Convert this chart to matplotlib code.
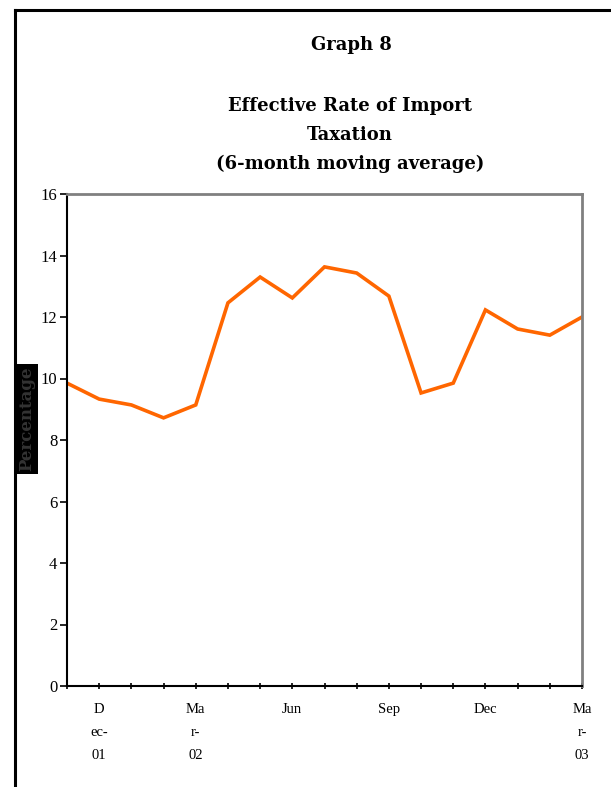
import matplotlib.pyplot as plt
from matplotlib.lines import Line2D

months = ['Nov-01', 'Dec-01', 'Jan-02', 'Feb-02', 'Mar-02', 'Apr-02', 'May-02',
          'Jun-02', 'Jul-02', 'Aug-02', 'Sep-02', 'Oct-02', 'Nov-02', 'Dec-02',
          'Jan-03', 'Feb-03', 'Mar-03']
rate = [9.85, 9.33, 9.14, 8.72, 9.14, 12.46, 13.30, 12.62, 13.63, 13.43,
        12.68, 9.53, 9.85, 12.23, 11.61, 11.41, 12.0]
xlabels = {1: 'D\nec-\n01', 4: 'Ma\nr-\n02', 7: 'Jun', 10: 'Sep', 13: 'Dec', 16: 'Ma\nr-\n03'}

plt.rcParams['font.family'] = ['Liberation Serif', 'DejaVu Serif']

fig = plt.figure(figsize=(6.11, 7.87), dpi=100)
W, H = 611, 787
ax = fig.add_axes([67 / W, 1 - 686 / H, (582 - 67) / W, (686 - 194) / H])

x = list(range(len(months)))
ax.plot(x, rate, color='#ff6600', lw=2.6, solid_joinstyle='miter')
ax.set_xlim(0, len(months) - 1)
ax.set_ylim(0, 16)
ax.set_yticks(range(0, 17, 2))
ax.set_xticks(x)
ax.set_xticklabels([xlabels.get(i, '') for i in x], fontsize=10.5, linespacing=2.0)
ax.tick_params(axis='y', labelsize=12, length=5, width=1.2, pad=2)
ax.tick_params(axis='x', length=4, width=1.2, pad=10, direction='inout')

for s in ['top', 'right']:
    ax.spines[s].set_color('#808080')
    ax.spines[s].set_linewidth(2)
for s in ['left', 'bottom']:
    ax.spines[s].set_color('black')
    ax.spines[s].set_linewidth(1.5)

# y-axis caption sits on a black box
fig.text(27 / W, 1 - 419 / H, 'Percentage', rotation=90, ha='center', va='center',
         fontsize=12, fontweight='bold', color='#333333', family='DejaVu Serif',
         bbox=dict(facecolor='black', edgecolor='none', pad=2))

fig.text(351 / W, 1 - 45 / H, 'Graph 8', ha='center', va='center',
         fontsize=13, fontweight='bold', family='DejaVu Serif')
fig.text(350 / W, 1 - 135 / H, 'Effective Rate of Import\nTaxation\n(6-month moving average)',
         ha='center', va='center', fontsize=13, fontweight='bold', linespacing=1.8,
         family='DejaVu Serif')

# page frame
fig.add_artist(Line2D([15 / W, 15 / W], [0, 1 - 10 / H], color='black', lw=2.2,
                      transform=fig.transFigure))
fig.add_artist(Line2D([15 / W, 1], [1 - 10 / H, 1 - 10 / H], color='black', lw=2.2,
                      transform=fig.transFigure))

fig.savefig('out.png', dpi=100)
